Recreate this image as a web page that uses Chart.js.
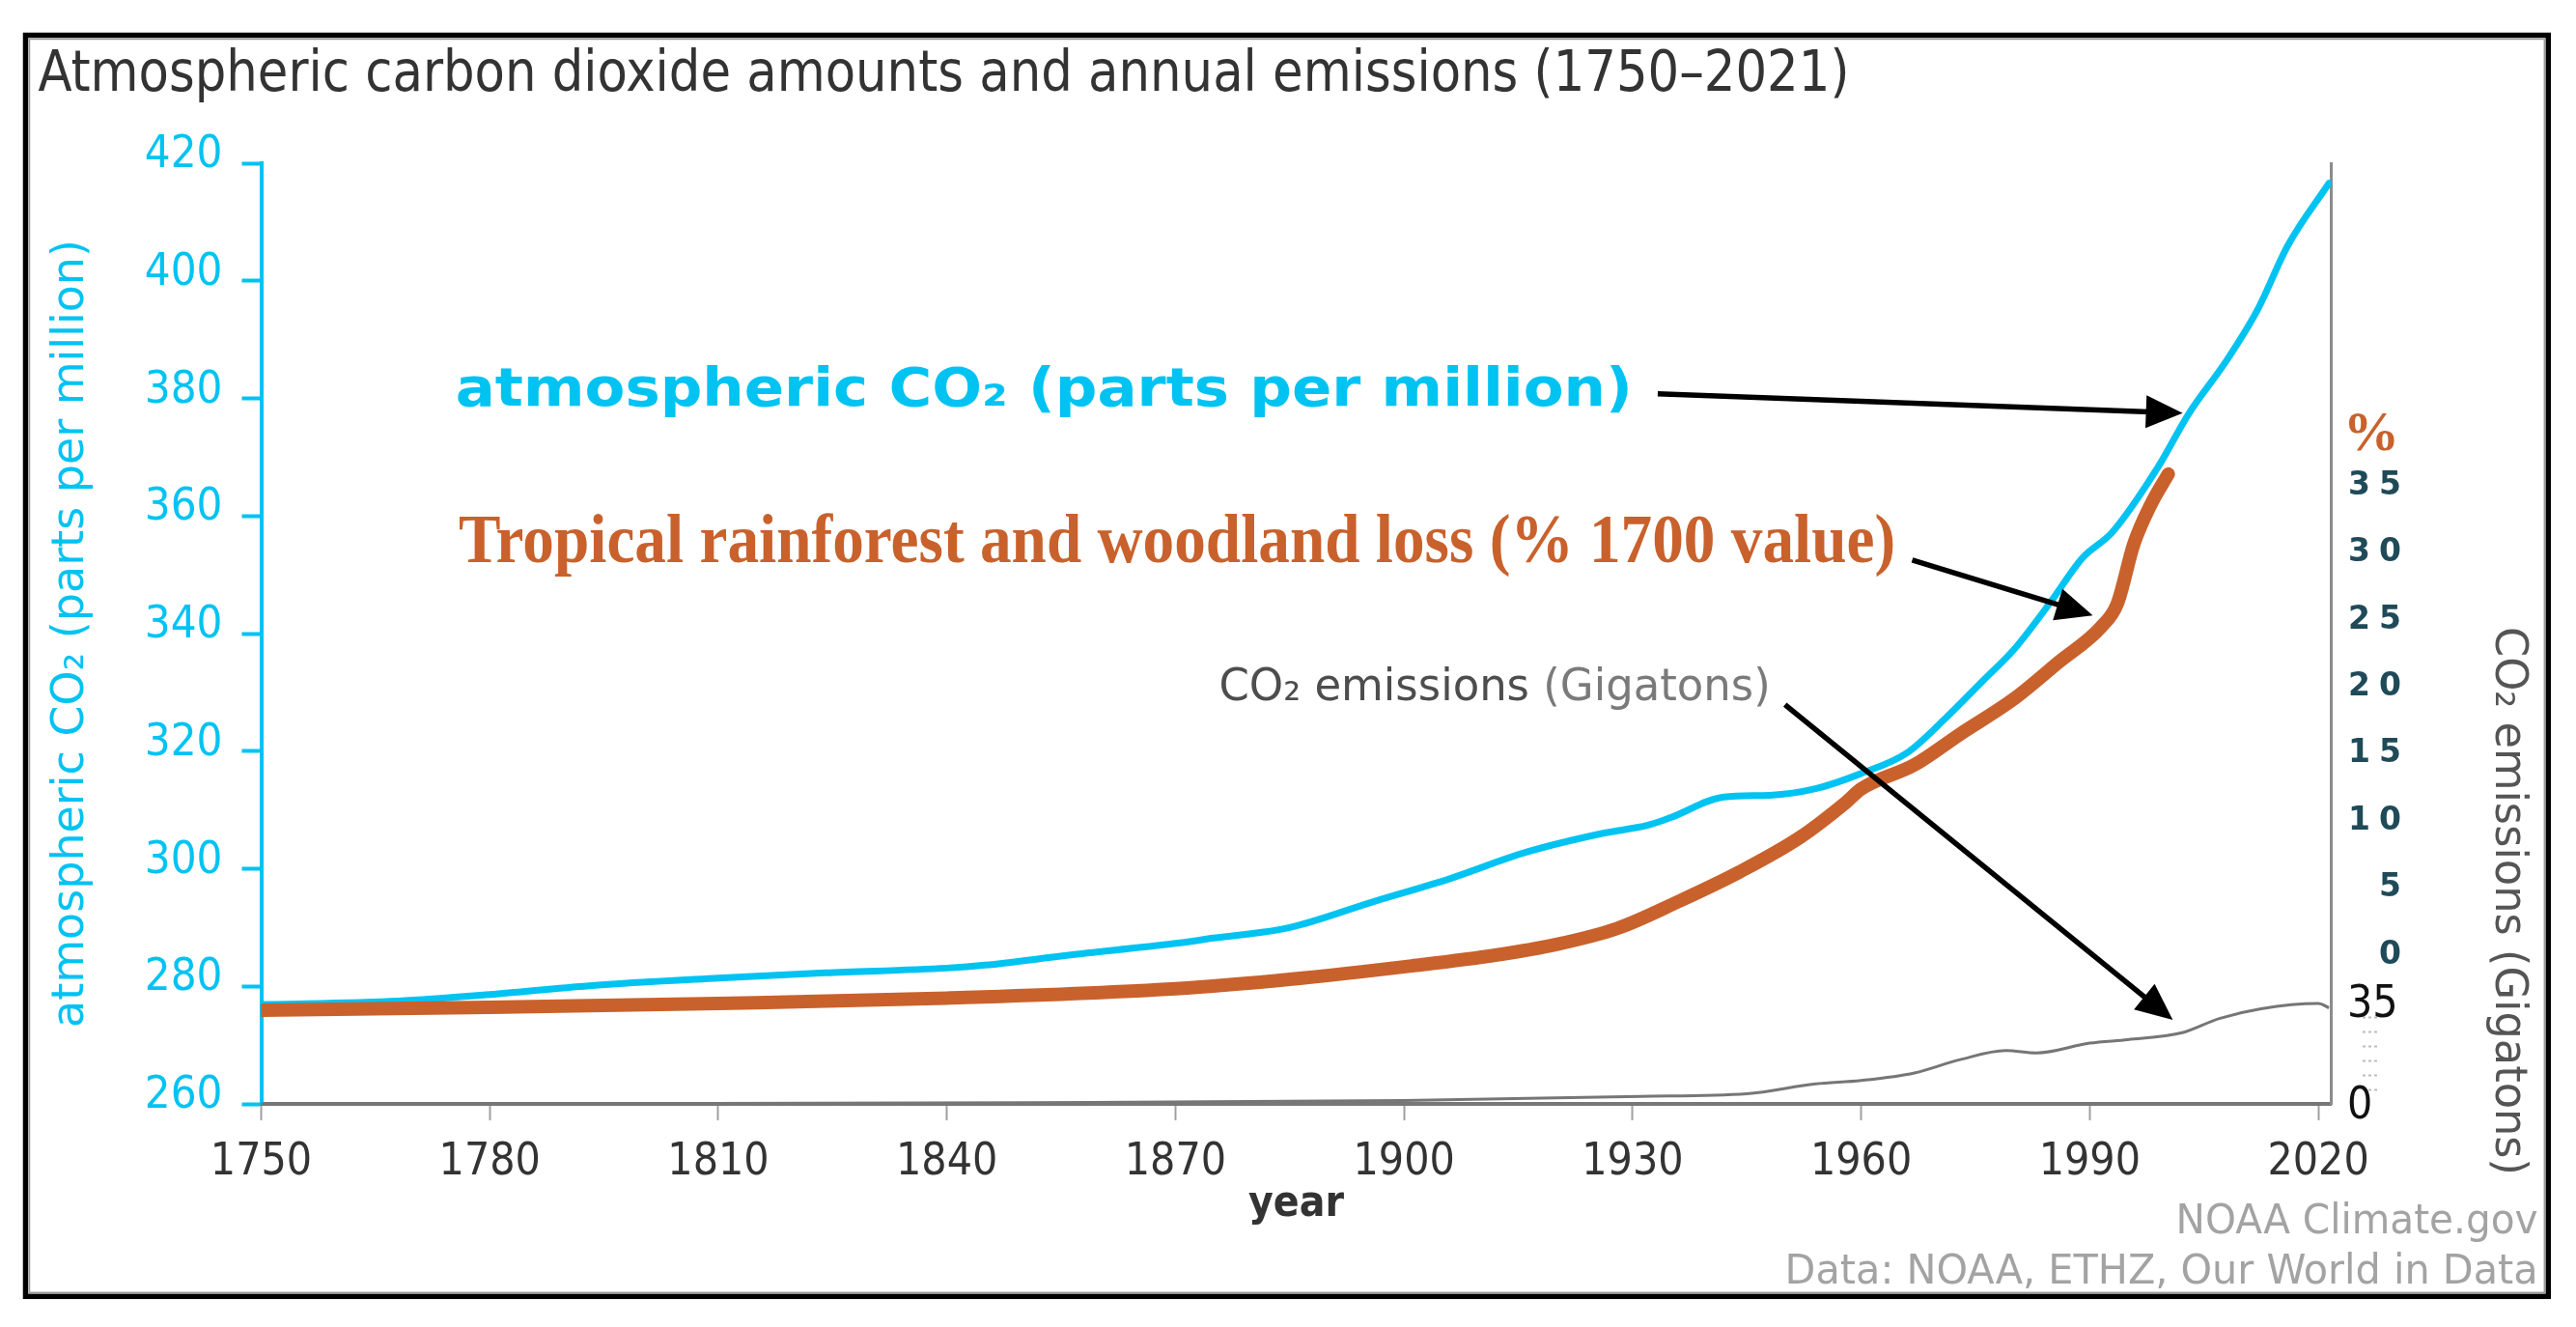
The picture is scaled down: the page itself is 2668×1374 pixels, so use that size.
<!DOCTYPE html>
<html>
<head>
<meta charset="utf-8">
<script src="https://cdn.jsdelivr.net/npm/chart.js@4.4.1/dist/chart.umd.min.js"></script>
<style>
html,body{margin:0;padding:0;background:#fff;overflow:hidden;}
#wrap{width:2668px;height:1374px;position:relative;}
</style>
</head>
<body>
<div id="wrap"><canvas id="c"></canvas></div>
<script>
// ---------------- data ----------------
const co2Years = [1750,1768,1780,1793,1810,1824,1840,1845,1856,1870,1875,1885,1896,1906,1916,1926,1932,1935,1942,1948,1954,1960,1966,1971,1976,1980,1985,1989,1993,1999,2003,2008,2012,2016,2021.4];
const co2Ppm   = [276.9,277.5,278.6,280.1,281.4,282.3,283.1,283.6,285.3,287.3,288.2,290.0,294.4,298.3,302.8,306.0,307.4,308.7,312.2,312.5,313.6,316.2,319.7,325.5,332.0,337.2,345.6,352.8,357.3,368.4,377.4,386.5,395.0,406.0,416.6];

const forestYears   = [1750,1780,1810,1840,1870,1885,1901,1912,1920,1928,1936,1944,1952,1958,1960,1967,1973,1980,1986,1991.5,1993.6,1995.8,1998,2000.3];
const forestLossPct = [-4.1,-3.9,-3.6,-3.2,-2.5,-1.8,-0.8,0.0,0.8,2.0,4.0,6.2,8.8,11.4,12.4,14.2,16.5,19.1,21.9,24.5,26.2,30.7,33.6,35.9];

const emisYears = [1750,1800,1850,1900,1931,1945,1954,1960,1967,1973,1979,1983,1990,1995,2002,2007,2012.5,2020,2021.4];
const emisGt    = [0,0.1,0.4,1.2,2.6,3.5,6.9,8.1,10.7,15.3,18.4,17.6,21.0,22.2,24.5,29.5,32.9,34.7,33.2];

const xTickYears   = [1750,1780,1810,1840,1870,1900,1930,1960,1990,2020];
const ppmTicks     = [260,280,300,320,340,360,380,400,420];
const pctTicks     = [0,5,10,15,20,25,30,35];
const emisTicks    = [0,5,10,15,20,25,30,35];
const emisLabelled = [0,35];

const chartTitle   = 'Atmospheric carbon dioxide amounts and annual emissions (1750–2021)';
const leftTitle    = 'atmospheric CO₂ (parts per million)';
const rightTitle   = 'CO₂ emissions (Gigatons)';
const xTitle       = 'year';
const annCo2       = 'atmospheric CO₂ (parts per million)';
const annForest    = 'Tropical rainforest and woodland loss (% 1700 value)';
const annEmisA     = 'CO₂ emissions ';
const annEmisB     = '(Gigatons)';
const pctUnit      = '%';
const credit1      = 'NOAA Climate.gov';
const credit2      = 'Data: NOAA, ETHZ, Our World in Data';

// ---------------- styles ----------------
const CYAN = '#00c3f2';
const ORANGE = '#c9612c';
const TEAL = '#1f4a58';
const SANS = "'DejaVu Sans Condensed','DejaVu Sans',sans-serif";
const NARROW = "'Liberation Sans Narrow','DejaVu Sans Condensed','DejaVu Sans',sans-serif";

// annotation anchors in data units (x: year, y: ppm on the left axis)
const notes = {
  co2:    {x0: 1775.5, x1: 1930.0, y: 378.8},
  forest: {x0: 1775.9, x1: 1964.5, y: 352.1},
  emis:   {x0: 1875.7, x1: 1948.1, y: 328.6}
};
const arrows = [
  {from: [1933.3, 380.8], to: [2002.2, 377.5]},
  {from: [1966.7, 352.5], to: [1990.4, 343.1]},
  {from: [1950.0, 327.9], to: [2000.9, 274.3]}
];

function drawText(ctx, text, x, y, o) {
  ctx.save();
  ctx.font = o.font;
  const w = ctx.measureText(text).width;
  const s = o.width ? o.width / w : 1;
  ctx.translate(x, y);
  if (o.rotate) ctx.rotate(o.rotate);
  ctx.scale(s, 1);
  ctx.fillStyle = o.color;
  ctx.textAlign = o.align || 'left';
  ctx.textBaseline = o.baseline || 'alphabetic';
  ctx.fillText(text, 0, 0);
  ctx.restore();
}

function drawArrow(ctx, x1, y1, x2, y2) {
  const a = Math.atan2(y2 - y1, x2 - x1);
  const hl = 38, hw = 17;
  const bx = x2 - hl * Math.cos(a), by = y2 - hl * Math.sin(a);
  ctx.save();
  ctx.strokeStyle = '#000'; ctx.fillStyle = '#000';
  ctx.lineWidth = 5.5; ctx.lineCap = 'butt';
  ctx.beginPath(); ctx.moveTo(x1, y1); ctx.lineTo(bx + 4 * Math.cos(a), by + 4 * Math.sin(a)); ctx.stroke();
  ctx.beginPath();
  ctx.moveTo(x2, y2);
  ctx.lineTo(bx + hw * Math.sin(a), by - hw * Math.cos(a));
  ctx.lineTo(bx - hw * Math.sin(a), by + hw * Math.cos(a));
  ctx.closePath(); ctx.fill();
  ctx.restore();
}

// labels of the two right-hand axes share one column: do not clip them to their own box
const noLabelClip = s => { s._computeLabelArea = function () { return undefined; }; };

const decor = {
  id: 'decor',
  beforeDraw(chart) {
    const c = chart.ctx;
    c.save(); c.fillStyle = '#fff'; c.fillRect(0, 0, chart.width, chart.height); c.restore();
  },
  afterDatasetsDraw(chart) {
    try { chart.ctx.letterSpacing = '9px'; } catch (e) {}
  },
  afterDraw(chart) {
    const ctx = chart.ctx;
    try { ctx.letterSpacing = '0px'; } catch (e) {}
    const sx = chart.scales.x, sy = chart.scales.y;
    const px = v => sx.getPixelForValue(v), py = v => sy.getPixelForValue(v);

    // frame
    ctx.save();
    ctx.strokeStyle = '#000'; ctx.lineWidth = 5.5;
    ctx.strokeRect(26.5, 36.5, 2612.8, 1305.8);
    ctx.strokeStyle = '#9a9a9a'; ctx.lineWidth = 1.5;
    ctx.strokeRect(30.5, 40.5, 2604.8, 1297.8);
    ctx.restore();

    // title
    drawText(ctx, chartTitle, 39.4, 93.8, {font: "58px " + SANS, color: '#333', width: 1876});

    // in-chart annotations
    let n = notes.co2;
    drawText(ctx, annCo2, px(n.x0), py(n.y), {font: "bold 56px 'DejaVu Sans',sans-serif", color: CYAN, width: px(n.x1) - px(n.x0)});
    n = notes.forest;
    drawText(ctx, annForest, px(n.x0), py(n.y), {font: "bold 71px 'Liberation Serif','DejaVu Serif',serif", color: ORANGE, width: px(n.x1) - px(n.x0)});
    n = notes.emis;
    ctx.save();
    ctx.font = "46px " + SANS;
    const wa = ctx.measureText(annEmisA).width, wb = ctx.measureText(annEmisB).width;
    const sc = (px(n.x1) - px(n.x0)) / (wa + wb);
    ctx.translate(px(n.x0), py(n.y)); ctx.scale(sc, 1);
    ctx.textBaseline = 'alphabetic'; ctx.textAlign = 'left';
    ctx.fillStyle = '#4d4d4d'; ctx.fillText(annEmisA, 0, 0);
    ctx.fillStyle = '#7a7a7a'; ctx.fillText(annEmisB, wa, 0);
    ctx.restore();

    arrows.forEach(a => drawArrow(ctx, px(a.from[0]), py(a.from[1]), px(a.to[0]), py(a.to[1])));

    // right-side unit label / title
    drawText(ctx, pctUnit, 2427, 466, {font: "bold 56px 'Liberation Serif','DejaVu Serif',serif", color: ORANGE, width: 58});
    drawText(ctx, rightTitle, 2597, 649, {font: "47px 'DejaVu Sans',sans-serif", color: '#555', width: 568, rotate: Math.PI / 2, baseline: 'middle'});

    // credits
    drawText(ctx, credit1, 2628.6, 1277, {font: "42px " + SANS, color: '#a3a3a3', width: 375, align: 'right'});
    drawText(ctx, credit2, 2628.6, 1329, {font: "42px " + SANS, color: '#a3a3a3', width: 780, align: 'right'});
  }
};

const pts = (xs, ys) => xs.map((x, i) => ({x: x, y: ys[i]}));

new Chart(document.getElementById('c'), {
  type: 'line',
  data: {
    datasets: [
      {label: annForest, data: pts(forestYears, forestLossPct), yAxisID: 'yPct', borderColor: ORANGE, borderWidth: 14,
       pointRadius: 0, borderCapStyle: 'round', borderJoinStyle: 'round', cubicInterpolationMode: 'monotone', order: 0},
      {label: annCo2, data: pts(co2Years, co2Ppm), yAxisID: 'y', borderColor: CYAN, borderWidth: 7,
       pointRadius: 0, borderCapStyle: 'round', borderJoinStyle: 'round', cubicInterpolationMode: 'monotone', order: 1},
      {label: rightTitle, data: pts(emisYears, emisGt), yAxisID: 'yEm', borderColor: '#767676', borderWidth: 3,
       pointRadius: 0, cubicInterpolationMode: 'monotone', clip: 8, order: 2}
    ]
  },
  options: {
    responsive: true, maintainAspectRatio: false, animation: false, devicePixelRatio: 1,
    layout: {padding: {top: 169, left: 0, right: 0, bottom: 0}},
    plugins: {legend: {display: false}, tooltip: {enabled: false}, title: {display: false}},
    scales: {
      x: {
        type: 'linear', position: 'bottom', min: 1750, max: 2021.7,
        afterBuildTicks: s => { s.ticks = xTickYears.map(v => ({value: v})); },
        afterFit: s => { s.height = 231; },
        ticks: {autoSkip: false, maxRotation: 0, padding: 16, color: '#333', font: {family: SANS, size: 46}, callback: v => String(v)},
        grid: {display: true, drawOnChartArea: false, drawTicks: true, tickLength: 17, tickColor: '#a0a0a0', tickWidth: 2},
        border: {display: true, color: '#777', width: 4},
        title: {display: true, text: xTitle, color: '#333', font: {family: SANS, size: 44, weight: 'bold'}, padding: {top: 0, bottom: 100}}
      },
      y: {
        type: 'linear', position: 'left', min: 260, max: 420,
        afterBuildTicks: s => { s.ticks = ppmTicks.map(v => ({value: v})); },
        afterFit: s => { s.width = 270.5; },
        ticks: {color: CYAN, font: {family: SANS, size: 47}, padding: 20, labelOffset: -8, callback: v => String(v)},
        grid: {display: true, drawOnChartArea: false, tickLength: 20, tickColor: CYAN, tickWidth: 4},
        border: {display: true, color: CYAN, width: 4},
        title: {display: true, text: leftTitle, color: CYAN, font: {family: "'DejaVu Sans',sans-serif", size: 46}, padding: {top: 46, bottom: 0}}
      },
      yPct: {
        type: 'linear', position: 'right', min: -11.1, max: 59.1,
        afterBuildTicks: s => { s.ticks = pctTicks.map(v => ({value: v})); },
        afterFit: s => { s.width = 81.5; noLabelClip(s); },
        ticks: {color: TEAL, font: {family: "'DejaVu Sans',sans-serif", size: 33, weight: 'bold'}, crossAlign: 'far', padding: 0, z: 1, callback: v => String(v)},
        grid: {display: false, drawOnChartArea: false},
        border: {display: true, color: '#8c8c8c', width: 3}
      },
      yEm: {
        type: 'linear', position: 'right', min: 0, max: 325,
        afterBuildTicks: s => { s.ticks = emisTicks.map(v => ({value: v})); },
        afterFit: s => { s.width = 172; noLabelClip(s); },
        ticks: {color: '#111', font: {family: NARROW, size: 46}, padding: 0, labelOffset: 3,
                callback: v => emisLabelled.includes(v) ? String(v) : ''},
        grid: {display: true, drawOnChartArea: false, tickLength: -65, tickWidth: 2,
               tickColor: c => (c.tick && emisLabelled.includes(c.tick.value)) ? 'rgba(0,0,0,0)' : '#bdbdbd',
               tickBorderDash: [0, 34, 3, 3, 3, 3, 3, 100]},
        border: {display: false}
      }
    }
  },
  plugins: [decor]
});
</script>
</body>
</html>
